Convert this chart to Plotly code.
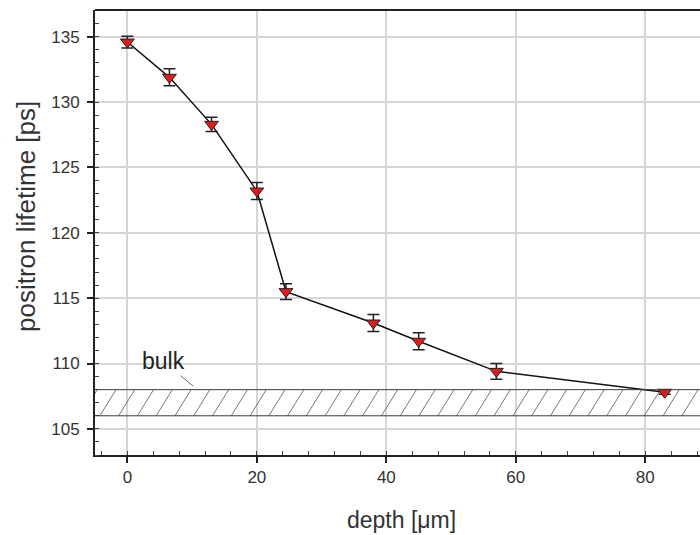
import plotly.graph_objects as go

# Positron lifetime measured against depth below the surface
depth = [0, 6.5, 13, 20, 24.5, 38, 45, 57, 83]
lifetime = [134.6, 131.9, 128.3, 123.2, 115.5, 113.1, 111.7, 109.4, 107.8]
lifetime_err = [0.45, 0.65, 0.55, 0.65, 0.6, 0.65, 0.65, 0.6, 0.15]

# Bulk lifetime band
bulk_low, bulk_high = 106.0, 108.0

x_tick_vals = [0, 20, 40, 60, 80]
y_tick_vals = [105, 110, 115, 120, 125, 130, 135]

FONT = "Liberation Sans, Arial, sans-serif"
TXT = "#333333"
AX = "#222222"
GRID = "#d6d6d6"

x_range = [-5, 88.45]
y_range = [103, 137.05]

fig = go.Figure()

# diagonal hatching inside the bulk band (clipped to the plot area)
hatch_step = 2.9
hatch_slant = 2.5
hx, hy = [], []
xs = -4.25 - 3 * hatch_step
while xs < x_range[1] + hatch_step:
    hx += [xs, xs + hatch_slant, None]
    hy += [bulk_low, bulk_high, None]
    xs += hatch_step
fig.add_trace(go.Scatter(
    x=hx, y=hy, mode="lines",
    line=dict(color="#555555", width=0.8),
    hoverinfo="skip", showlegend=False,
))

# band borders
for yb in (bulk_low, bulk_high):
    fig.add_shape(type="line", xref="paper", yref="y", x0=0, x1=1, y0=yb, y1=yb,
                  line=dict(color="#3a3a3a", width=1), layer="above")

# measured lifetimes
fig.add_trace(go.Scatter(
    x=depth, y=lifetime, mode="lines+markers",
    line=dict(color="#111111", width=1.5),
    marker=dict(symbol="triangle-down", size=12, color="#e01b1b",
                line=dict(color="#222222", width=1)),
    error_y=dict(type="data", array=lifetime_err, visible=True,
                 color="#222222", thickness=1.5, width=6),
    showlegend=False,
))

# top frame line
fig.add_shape(type="line", xref="paper", yref="paper", x0=0, x1=1, y0=1, y1=1,
              line=dict(color=AX, width=2), layer="above")

fig.add_annotation(
    x=10.16, y=108.27, xref="x", yref="y",
    text="bulk", showarrow=True, arrowhead=0, arrowwidth=0.8,
    arrowcolor="#444444", ax=-30, ay=-25, standoff=0,
    font=dict(family=FONT, size=23, color="#222222"),
)

# axis titles
fig.add_annotation(
    x=0.507, y=-0.146, xref="paper", yref="paper",
    text="depth [μm]", showarrow=False, xanchor="center", yanchor="middle",
    font=dict(family=FONT, size=23, color=TXT),
)
fig.add_annotation(
    x=-0.114, y=0.535, xref="paper", yref="paper",
    text="positron lifetime [ps]", showarrow=False, textangle=-90,
    xanchor="center", yanchor="middle",
    font=dict(family=FONT, size=26, color=TXT),
)

fig.update_xaxes(
    range=x_range, tickvals=x_tick_vals,
    showgrid=True, gridcolor=GRID, gridwidth=1.5, zeroline=False,
    showline=True, linecolor=AX, linewidth=2,
    ticks="outside", ticklen=6, tickwidth=1.5, tickcolor=AX,
    minor=dict(ticks="inside", ticklen=4, tickwidth=1, tickcolor="#444444",
               dtick=4, tick0=0, showgrid=False),
    tickfont=dict(family=FONT, size=17, color=TXT),
)
fig.update_yaxes(
    range=y_range, tickvals=y_tick_vals,
    showgrid=True, gridcolor=GRID, gridwidth=1.5, zeroline=False,
    showline=True, linecolor=AX, linewidth=2,
    ticks="outside", ticklen=6, tickwidth=1.5, tickcolor=AX,
    minor=dict(ticks="inside", ticklen=4, tickwidth=1, tickcolor="#444444",
               dtick=1, tick0=0, showgrid=False),
    tickfont=dict(family=FONT, size=17, color=TXT),
    ticklabelstandoff=4,
)

fig.update_layout(
    width=700, height=535,
    margin=dict(l=95, r=0, t=10, b=80),
    paper_bgcolor="white", plot_bgcolor="white",
    showlegend=False,
)

fig.write_html("out.html")
